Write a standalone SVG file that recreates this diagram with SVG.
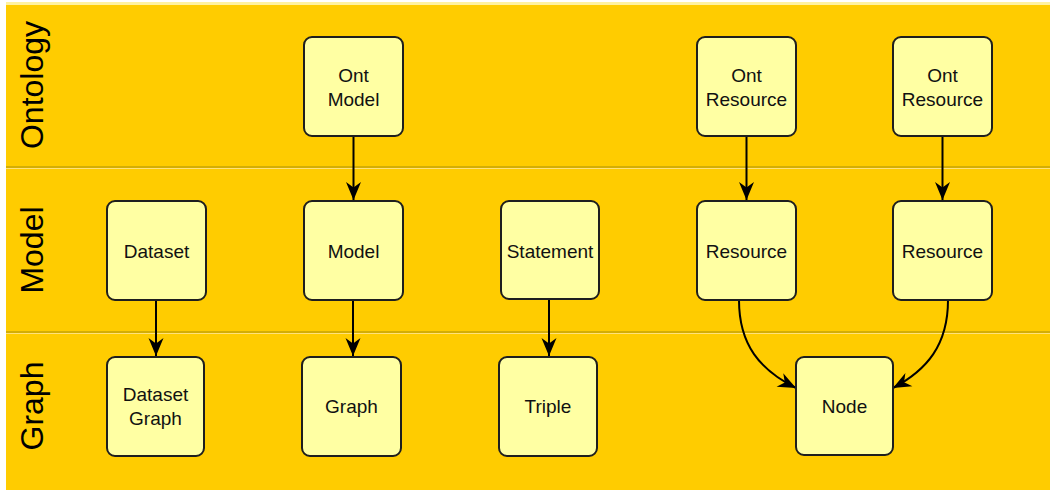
<svg xmlns="http://www.w3.org/2000/svg" width="1050" height="490" viewBox="0 0 1050 490">
  <style>
    .band { fill: #FFCC00; }
    .sep-dark { stroke: #A8900A; stroke-width: 1.2; }
    .sep-light { stroke: #FFE27A; stroke-width: 1.2; }
    .lane { font-family: "Liberation Sans", Arial, sans-serif; font-size: 32px; fill: #000; text-anchor: middle; }
    .box { fill: #FFFFA3; stroke: #1E1E1E; stroke-width: 2; }
    .lbl { font-family: "Liberation Sans", Arial, sans-serif; font-size: 19px; fill: #111; text-anchor: middle; }
    .edge { fill: none; stroke: #000; stroke-width: 2; marker-end: url(#head); }
  </style>
  <defs>
    <marker id="head" viewBox="-19 -8 20 16" refX="0" refY="0" markerWidth="20" markerHeight="16" markerUnits="userSpaceOnUse" orient="auto">
      <path d="M0,0 L-18,-7.5 L-12.5,0 L-18,7.5 Z" fill="#000"/>
    </marker>
  </defs>

  <!-- canvas and swimlanes -->
  <rect x="0" y="0" width="1050" height="490" fill="#FFFFFF"/>
  <rect x="6" y="2" width="1044" height="4" fill="#FFF2A0"/>
  <rect class="band" x="6" y="5" width="1044" height="485"/>
  <line class="sep-dark" x1="6" y1="167" x2="1050" y2="167"/>
  <line class="sep-light" x1="6" y1="168.5" x2="1050" y2="168.5"/>
  <line class="sep-dark" x1="6" y1="332" x2="1050" y2="332"/>
  <line class="sep-light" x1="6" y1="333.5" x2="1050" y2="333.5"/>

  <g id="lanes">
    <text class="lane" transform="translate(43,85) rotate(-90)">Ontology</text>
    <text class="lane" transform="translate(43,250) rotate(-90)">Model</text>
    <text class="lane" transform="translate(43,406) rotate(-90)">Graph</text>
  </g>

  <!-- connectors -->
  <g id="connectors">
    <path class="edge" d="M353.5,136 L353.5,200"/>
    <path class="edge" d="M746.5,136 L746.5,200"/>
    <path class="edge" d="M942.5,136 L942.5,200"/>
    <path class="edge" d="M156,300 L156,356"/>
    <path class="edge" d="M353,300 L353,356"/>
    <path class="edge" d="M549,299 L549,356"/>
    <path class="edge" d="M739,300 C739,345 760,370 796,388"/>
    <path class="edge" d="M948,300 C948,345 927,370 893,388"/>
  </g>

  <!-- Ontology lane -->
  <g id="ont-model">
    <rect class="box" x="304" y="37" width="99" height="99" rx="8"/>
    <text class="lbl" x="353.5" y="82">Ont</text>
    <text class="lbl" x="353.5" y="106">Model</text>
  </g>
  <g id="ont-resource-1">
    <rect class="box" x="697" y="37" width="99" height="99" rx="8"/>
    <text class="lbl" x="746.5" y="82">Ont</text>
    <text class="lbl" x="746.5" y="106">Resource</text>
  </g>
  <g id="ont-resource-2">
    <rect class="box" x="893" y="37" width="99" height="99" rx="8"/>
    <text class="lbl" x="942.5" y="82">Ont</text>
    <text class="lbl" x="942.5" y="106">Resource</text>
  </g>

  <!-- Model lane -->
  <g id="dataset">
    <rect class="box" x="107" y="201" width="99" height="99" rx="8"/>
    <text class="lbl" x="156.5" y="257.5">Dataset</text>
  </g>
  <g id="model">
    <rect class="box" x="304" y="201" width="99" height="99" rx="8"/>
    <text class="lbl" x="353.5" y="257.5">Model</text>
  </g>
  <g id="statement">
    <rect class="box" x="501" y="201" width="98" height="98" rx="8"/>
    <text class="lbl" x="550" y="257.5">Statement</text>
  </g>
  <g id="resource-1">
    <rect class="box" x="697" y="201" width="99" height="99" rx="8"/>
    <text class="lbl" x="746.5" y="257.5">Resource</text>
  </g>
  <g id="resource-2">
    <rect class="box" x="893" y="201" width="99" height="99" rx="8"/>
    <text class="lbl" x="942.5" y="257.5">Resource</text>
  </g>

  <!-- Graph lane -->
  <g id="dataset-graph">
    <rect class="box" x="107" y="357" width="97" height="99" rx="8"/>
    <text class="lbl" x="155.5" y="401">Dataset</text>
    <text class="lbl" x="155.5" y="425">Graph</text>
  </g>
  <g id="graph">
    <rect class="box" x="302" y="357" width="99" height="99" rx="8"/>
    <text class="lbl" x="351.5" y="413">Graph</text>
  </g>
  <g id="triple">
    <rect class="box" x="499" y="357" width="98" height="99" rx="8"/>
    <text class="lbl" x="548" y="413">Triple</text>
  </g>
  <g id="node">
    <rect class="box" x="796" y="357" width="97" height="98" rx="8"/>
    <text class="lbl" x="844.5" y="413">Node</text>
  </g>
</svg>
